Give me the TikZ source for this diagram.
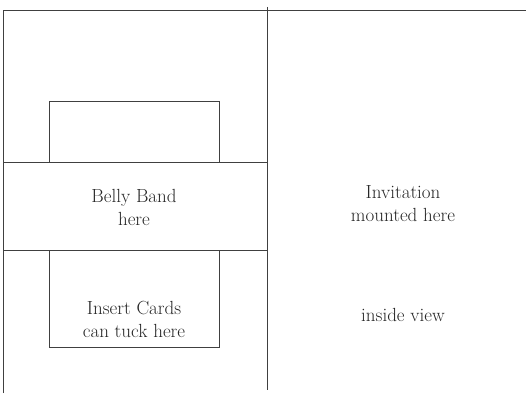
\documentclass[tikz,border=0pt]{standalone}
\begin{document}
\begin{tikzpicture}[x=1pt,y=-1pt,
  edge/.style={draw=black!75,line width=0.9pt},
  lbl/.style={font=\fontsize{19}{23}\selectfont,align=center,inner sep=0pt,text=black!85}]
\useasboundingbox (0,0) rectangle (526,393);
% outer frame
\draw[edge] (3,393) -- (3,10) -- (526,10);
\draw[edge] (267,7) -- (267,390);
% upper flap
\draw[edge] (49,162) -- (49,101.5) -- (219,101.5) -- (219,162);
% belly band
\draw[edge] (3,162) -- (267,162);
\draw[edge] (3,250) -- (267,250);
% insert pocket
\draw[edge] (49,250) -- (49,347) -- (219,347) -- (219,250);
% labels
\node[lbl] (band) at (134,207) {Belly Band\\here};
\node[lbl] (cards) at (134,319) {Insert Cards\\can tuck here};
\node[lbl] (invite) at (403,204) {Invitation\\mounted here};
\node[lbl,anchor=base] (view) at (403,321) {inside view};
\end{tikzpicture}
\end{document}
